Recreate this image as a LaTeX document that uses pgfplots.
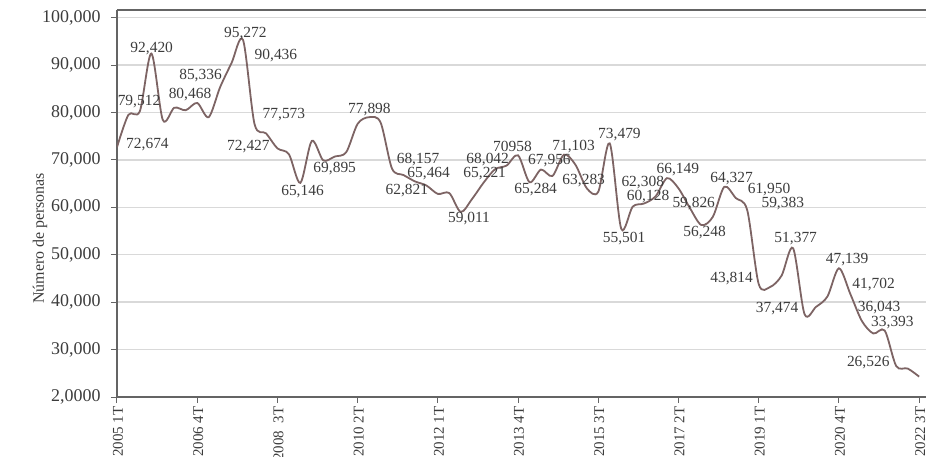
\documentclass[border=0pt]{standalone}
\usepackage{pgfplots}
\pgfplotsset{compat=1.18}
\usepackage{fontspec}
\setmainfont{Liberation Serif}
\definecolor{linec}{RGB}{125,100,100}
\definecolor{txt}{RGB}{60,60,60}
\definecolor{gridc}{RGB}{217,217,217}
\definecolor{axc}{RGB}{100,100,100}
\tikzset{lbl/.style={font=\fontsize{15.5}{15.5}\selectfont, text=txt, inner sep=0pt}}
\pgfplotstableread{
i v
0 72674
1 79512
2 80300
3 92420
4 78400
5 81000
6 80468
7 82000
8 79000
9 85336
10 90436
11 95272
12 77573
13 75600
14 72427
15 71200
16 65146
17 74000
18 69895
19 70700
20 71600
21 77600
22 79000
23 77898
24 68157
25 66800
26 65464
27 64600
28 62821
29 63000
30 59011
31 61800
32 65221
33 68042
34 68800
35 70958
36 65284
37 67956
38 66600
39 71103
40 69000
41 64000
42 63283
43 73479
44 55501
45 60128
46 60800
47 62308
48 66149
49 64000
50 59826
51 56248
52 58000
53 64327
54 61950
55 59383
56 43814
57 43200
58 45600
59 51377
60 37474
61 39000
62 41200
63 47139
64 41702
65 36043
66 33393
67 34000
68 26526
69 26000
70 24300
}\datatable
\begin{document}
\begin{tikzpicture}
\begin{axis}[name=ax,
  scale only axis, width=809bp, height=387bp,
  xmin=0, xmax=70.6, ymin=20000, ymax=101600,
  axis x line*=box, axis y line*=left,
  axis line style={axc, line width=1.3bp},
  xtick pos=bottom, ytick pos=left,
  ytick={20000,30000,...,100000},
  yticklabels={{2,0000},{30,000},{40,000},{50,000},{60,000},{70,000},{80,000},{90,000},{100,000}},
  xtick={0,7,...,70},
  xticklabels={2005 1T,2006 4T,2008\ \ 3T,2010 2T,2012 1T,2013 4T,2015 3T,2017 2T,2019 1T,2020 4T,2022 3T},
  tick align=outside, major tick length=6bp,
  tick style={axc, line width=1bp},
  ymajorgrids, grid style={gridc, line width=1.3bp},
  x tick label style={rotate=90, anchor=east, font=\fontsize{15}{15}\selectfont, text=txt, yshift=-1bp},
  y tick label style={font=\fontsize{18}{18}\selectfont, text=txt, xshift=-7bp},
  ylabel={Número de personas},
  every axis y label/.style={at={(axis description cs:0,0.41)}, xshift=-77bp, rotate=90, anchor=center, font=\fontsize{16}{16}\selectfont, text=txt},
]
\addplot[linec, line width=1.8bp, smooth, tension=0.5, no marks] table[x=i, y=v] {\datatable};
\node[lbl] at (axis cs:1.92,82260) {79,512};
\node[lbl] at (axis cs:2.66,73132) {72,674};
\node[lbl] at (axis cs:3.03,93520) {92,420};
\node[lbl] at (axis cs:6.37,83674) {80,468};
\node[lbl] at (axis cs:7.29,87680) {85,336};
\node[lbl] at (axis cs:11.20,96682) {95,272};
\node[lbl] at (axis cs:13.87,91896) {90,436};
\node[lbl] at (axis cs:14.57,79457) {77,573};
\node[lbl] at (axis cs:11.47,72773) {72,427};
\node[lbl] at (axis cs:16.19,63285) {65,146};
\node[lbl] at (axis cs:19.0,68219) {69,895};
\node[lbl] at (axis cs:22.03,80659) {77,898};
\node[lbl] at (axis cs:26.27,69969) {68,157};
\node[lbl] at (axis cs:27.2,67165) {65,464};
\node[lbl] at (axis cs:25.29,63433) {62,821};
\node[lbl] at (axis cs:30.72,57677) {59,011};
\node[lbl] at (axis cs:32.09,67165) {65,221};
\node[lbl] at (axis cs:32.35,69969) {68,042};
\node[lbl] at (axis cs:34.51,72773) {70958};
\node[lbl] at (axis cs:37.74,69758) {67,956};
\node[lbl] at (axis cs:36.54,63644) {65,284};
\node[lbl] at (axis cs:39.85,72773) {71,103};
\node[lbl] at (axis cs:40.73,65541) {63,283};
\node[lbl] at (axis cs:43.85,75240) {73,479};
\node[lbl] at (axis cs:45.88,65267) {62,308};
\node[lbl] at (axis cs:46.34,62231) {60,128};
\node[lbl] at (axis cs:44.26,53313) {55,501};
\node[lbl] at (axis cs:48.95,67861) {66,149};
\node[lbl] at (axis cs:50.33,60692) {59,826};
\node[lbl] at (axis cs:51.28,54725) {56,248};
\node[lbl] at (axis cs:53.64,66111) {64,327};
\node[lbl] at (axis cs:56.90,63791) {61,950};
\node[lbl] at (axis cs:58.10,60692) {59,383};
\node[lbl] at (axis cs:59.23,53460) {51,377};
\node[lbl] at (axis cs:53.64,45027) {43,814};
\node[lbl] at (axis cs:57.61,38701) {37,474};
\node[lbl] at (axis cs:63.72,48885) {47,139};
\node[lbl] at (axis cs:66.03,43614) {41,702};
\node[lbl] at (axis cs:66.51,38828) {36,043};
\node[lbl] at (axis cs:67.67,35665) {33,393};
\node[lbl] at (axis cs:65.56,27232) {26,526};
\end{axis}
\pgfresetboundingbox
\path[use as bounding box] ([xshift=-117bp,yshift=-60bp]ax.south west) rectangle ([yshift=10bp]ax.north east);
\end{tikzpicture}
\end{document}
